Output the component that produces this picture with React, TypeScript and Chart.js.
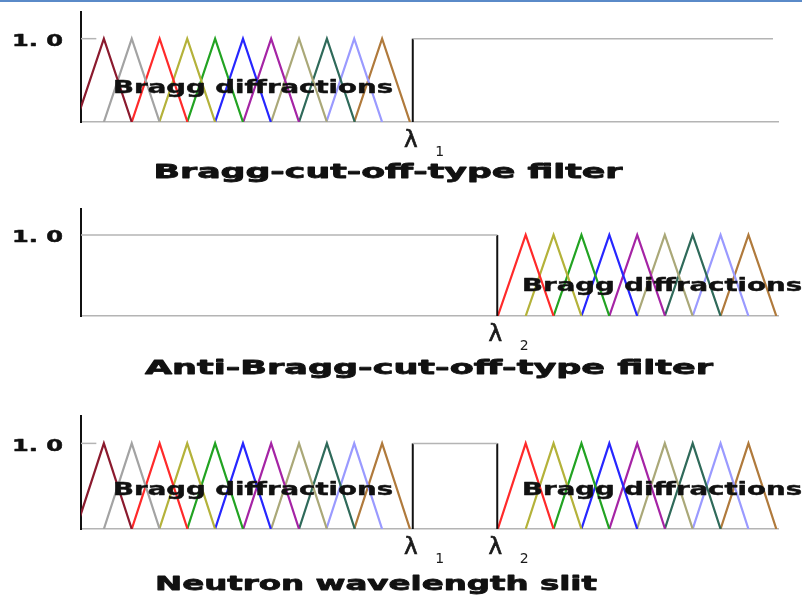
import React, { useEffect, useRef } from "react";
import { Chart, registerables } from "chart.js";

Chart.register(...registerables);

// Wavelength axis (arbitrary units, one unit = spacing between Bragg peaks)
const X_MAX = 25;
const Y_MAX = 1.32;
const yTickValue = 1;
const yTickLabel = "1. 0";

// Edge wavelengths
const lambda1 = 11.9;
const lambda2 = 14.93;
const openEnd = 24.82;

// Bragg peak centres below λ1 and above λ2
const lowPeaks = [0.82, 1.82, 2.82, 3.81, 4.81, 5.81, 6.82, 7.82, 8.82, 9.8, 10.8];
const highPeaks = [15.95, 16.95, 17.95, 18.95, 19.95, 20.94, 21.94, 22.94, 23.94];
const peakHalfWidth = 1.0;
const peakHeight = 1.0;

const lowColors = [
  "#8b1a2e", "#a3a3a3", "#ff2a2a", "#b4b23a", "#22a322", "#2626ff",
  "#a524a5", "#aaa878", "#2f6a5a", "#9a9aff", "#b07a3c",
];
const highColors = [
  "#ff2a2a", "#b4b23a", "#22a322", "#2626ff", "#a524a5",
  "#aaa878", "#2f6a5a", "#9a9aff", "#b07a3c",
];

const braggText = "Bragg diffractions";
const titles = [
  "Bragg-cut-off-type filter",
  "Anti-Bragg-cut-off-type filter",
  "Neutron wavelength slit",
];

type Pt = { x: number; y: number };

type PanelSpec = {
  top: number;
  height: number;
  padTop: number;
  padBottom: number;
  stub: boolean;
  low: boolean;
  high: boolean;
  windows: [number, number][];
  edges: [number, string][];
  braggAt: number[];
  braggY: number;
  title: string;
  titleX: number;
  titleW: number;
  titleDy: number;
};

const panels: PanelSpec[] = [
  {
    top: 0, height: 196, padTop: 12, padBottom: 74,
    stub: true, low: true, high: false,
    windows: [[lambda1, openEnd]],
    edges: [[lambda1, "1"]],
    braggAt: [1.15], braggY: 0.40,
    title: titles[0], titleX: 388, titleW: 469, titleDy: 51,
  },
  {
    top: 196, height: 196, padTop: 13, padBottom: 76,
    stub: false, low: false, high: true,
    windows: [[0, lambda2]],
    edges: [[lambda2, "2"]],
    braggAt: [15.82], braggY: 0.36,
    title: titles[1], titleX: 429, titleW: 568, titleDy: 53,
  },
  {
    top: 392, height: 204, padTop: 24, padBottom: 67,
    stub: true, low: true, high: true,
    windows: [[lambda1, lambda2]],
    edges: [[lambda1, "1"], [lambda2, "2"]],
    braggAt: [1.15, 15.82], braggY: 0.45,
    title: titles[2], titleX: 376, titleW: 442, titleDy: 56,
  },
];

function triangle(peak: number): Pt[] {
  return [
    { x: peak - peakHalfWidth, y: 0 },
    { x: peak, y: peakHeight },
    { x: peak + peakHalfWidth, y: 0 },
  ];
}

function lineSet(data: Pt[], color: string, width: number) {
  return {
    data,
    borderColor: color,
    borderWidth: width,
    pointRadius: 0,
    fill: false,
    tension: 0,
  };
}

function buildDatasets(spec: PanelSpec) {
  const sets: any[] = [];
  if (spec.stub) sets.push(lineSet([{ x: 0, y: 1 }, { x: 0.55, y: 1 }], "#b4b4b4", 1.5));
  for (const [a, b] of spec.windows) {
    sets.push(lineSet([{ x: a, y: 1 }, { x: b, y: 1 }], "#b4b4b4", 1.5));
  }
  for (const [e] of spec.edges) {
    sets.push(lineSet([{ x: e, y: 0 }, { x: e, y: 1 }], "#111111", 2));
  }
  if (spec.low) lowPeaks.forEach((p, i) => sets.push(lineSet(triangle(p), lowColors[i], 2.2)));
  if (spec.high) highPeaks.forEach((p, i) => sets.push(lineSet(triangle(p), highColors[i], 2.2)));
  return sets;
}

// Horizontally stretched, slightly emboldened text
function drawWide(
  ctx: CanvasRenderingContext2D, text: string, x: number, y: number,
  font: string, width: number, align: "left" | "center", weight = 0.9,
) {
  ctx.save();
  ctx.font = font;
  ctx.textBaseline = "middle";
  ctx.textAlign = "left";
  const w = ctx.measureText(text).width;
  const sx = width / w;
  const left = align === "center" ? x - width / 2 : x;
  ctx.translate(left, y);
  ctx.scale(sx, 1);
  ctx.fillText(text, 0, 0);
  if (weight > 0) {
    ctx.strokeStyle = ctx.fillStyle as string;
    ctx.lineWidth = weight;
    ctx.lineJoin = "round";
    ctx.strokeText(text, 0, 0);
  }
  ctx.restore();
}

function textPlugin(spec: PanelSpec) {
  return {
    id: "panelText",
    afterDatasetsDraw(chart: any) {
      const ctx: CanvasRenderingContext2D = chart.ctx;
      const xs = chart.scales.x;
      const ys = chart.scales.y;
      const base = ys.getPixelForValue(0);
      const one = ys.getPixelForValue(yTickValue);
      ctx.save();
      ctx.fillStyle = "#111";
      drawWide(ctx, yTickLabel, 12, one + 3, 'bold 16px "DejaVu Sans"', 51, "left", 0.5);
      for (const at of spec.braggAt) {
        drawWide(ctx, braggText, xs.getPixelForValue(at), ys.getPixelForValue(spec.braggY),
          'bold 17px "DejaVu Sans"', 280, "left", 0.45);
      }
      ctx.fillStyle = "#1a1a1a";
      ctx.strokeStyle = "#1a1a1a";
      ctx.lineWidth = 0.7;
      ctx.textAlign = "center";
      ctx.textBaseline = "middle";
      for (const [val, sub] of spec.edges) {
        const px = xs.getPixelForValue(val);
        ctx.font = '23px "DejaVu Sans"';
        ctx.fillText("λ", px - 2, base + 19);
        ctx.strokeText("λ", px - 2, base + 19);
        ctx.font = '14px "DejaVu Sans"';
        ctx.fillText(sub, px + 27, base + 30);
      }
      ctx.fillStyle = "#111";
      drawWide(ctx, spec.title, spec.titleX, base + spec.titleDy, 'bold 20px "DejaVu Sans"', spec.titleW, "center", 0.8);
      ctx.restore();
    },
  };
}

function Panel({ spec }: { spec: PanelSpec }) {
  const ref = useRef<HTMLCanvasElement>(null);
  useEffect(() => {
    const chart = new Chart(ref.current as HTMLCanvasElement, {
      type: "line",
      data: { datasets: buildDatasets(spec) },
      options: {
        animation: false,
        responsive: false,
        events: [],
        layout: { padding: { left: 0, right: 24, top: spec.padTop, bottom: spec.padBottom } },
        plugins: { legend: { display: false }, tooltip: { enabled: false } },
        scales: {
          x: {
            type: "linear",
            min: 0,
            max: X_MAX,
            grid: { display: false, drawTicks: false },
            ticks: { display: false },
            border: { display: true, color: "#b4b4b4", width: 1.5 },
            afterFit: (s: any) => { s.height = 0; },
          },
          y: {
            type: "linear",
            min: 0,
            max: Y_MAX,
            grid: { display: false, drawTicks: false },
            ticks: { display: false },
            border: { display: true, color: "#111111", width: 2 },
            afterFit: (s: any) => { s.width = 81; },
          },
        },
      } as any,
      plugins: [textPlugin(spec)],
    });
    return () => chart.destroy();
  }, [spec]);
  return (
    <canvas
      ref={ref}
      width={802}
      height={spec.height}
      style={{ position: "absolute", left: 0, top: spec.top, width: 802, height: spec.height }}
    />
  );
}

export default function App() {
  return (
    <div style={{ position: "absolute", left: 0, top: 0, width: 802, height: 596, background: "#fff", overflow: "hidden" }}>
      {panels.map((p, i) => <Panel key={i} spec={p} />)}
      <div style={{ position: "absolute", left: 0, top: 0, width: 802, height: 2, background: "#5a8ac8" }} />
    </div>
  );
}
